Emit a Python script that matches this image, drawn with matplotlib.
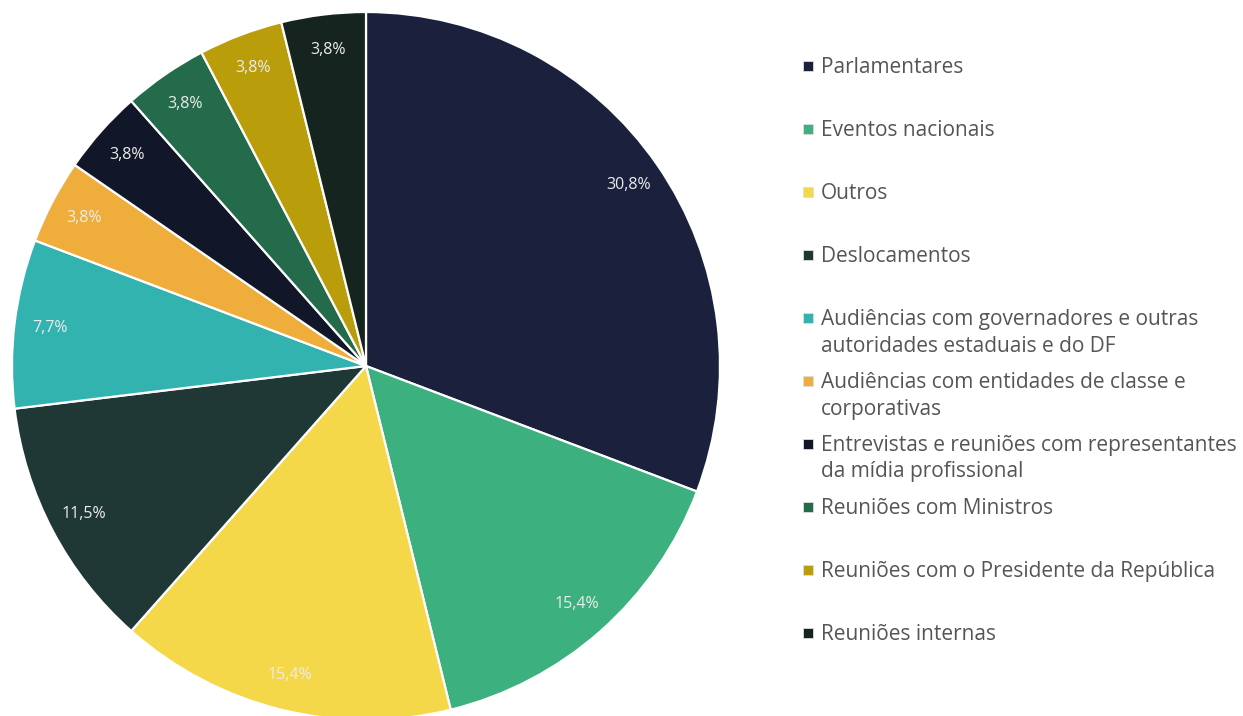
import matplotlib.pyplot as plt
from matplotlib.patches import Rectangle

plt.rcParams['font.family'] = ['Open Sans', 'DejaVu Sans']

categorias = ['Parlamentares', 'Eventos nacionais', 'Outros', 'Deslocamentos',
              'Audiências com governadores e outras\nautoridades estaduais e do DF',
              'Audiências com entidades de classe e\ncorporativas',
              'Entrevistas e reuniões com representantes\nda mídia profissional',
              'Reuniões com Ministros', 'Reuniões com o Presidente da República',
              'Reuniões internas']
quantidade = [8, 4, 4, 3, 2, 1, 1, 1, 1, 1]
cores = ['#1b213d', '#3db07f', '#f5d84a', '#1f3835', '#33b3b0',
         '#efae3c', '#111628', '#236b4b', '#b99d0b', '#15241f']

W, H = 1243, 716
fig = plt.figure(figsize=(W / 100, H / 100), dpi=100)

# pie: center ~ (366, 366) px, radius ~354 px
r = 354
ax = fig.add_axes([(366 - r) / W, (H - 366 - r) / H, 2 * r / W, 2 * r / H])
wedges, texts, autotexts = ax.pie(
    quantidade, colors=cores, startangle=90, counterclock=False,
    autopct=lambda p: f'{p:.1f}%'.replace('.', ','), pctdistance=0.9,
    wedgeprops=dict(edgecolor='white', linewidth=1.6),
    textprops=dict(color='#ececec', fontsize=11.5))
ax.set_xlim(-1, 1)
ax.set_ylim(-1, 1)
ax.set_aspect('auto')
ax.axis('off')

# legend drawn by hand: fixed slots, text top-aligned
x_mark, x_txt = 808, 821
y0, passo, linha = 66, 63, 26.5
for i, (lab, cor) in enumerate(zip(categorias, cores)):
    y = y0 + i * passo
    s = 10
    fig.patches.append(Rectangle(((x_mark - s / 2) / W, 1 - (y + s / 2) / H), s / W, s / H,
                                 transform=fig.transFigure, facecolor=cor,
                                 edgecolor='#dddddd', linewidth=0.6))
    for j, parte in enumerate(lab.split('\n')):
        fig.text(x_txt / W, 1 - (y + 1.5 + j * linha) / H, parte, fontsize=15,
                 color='#555555', va='center', ha='left')

fig.savefig('out.png', dpi=100)
